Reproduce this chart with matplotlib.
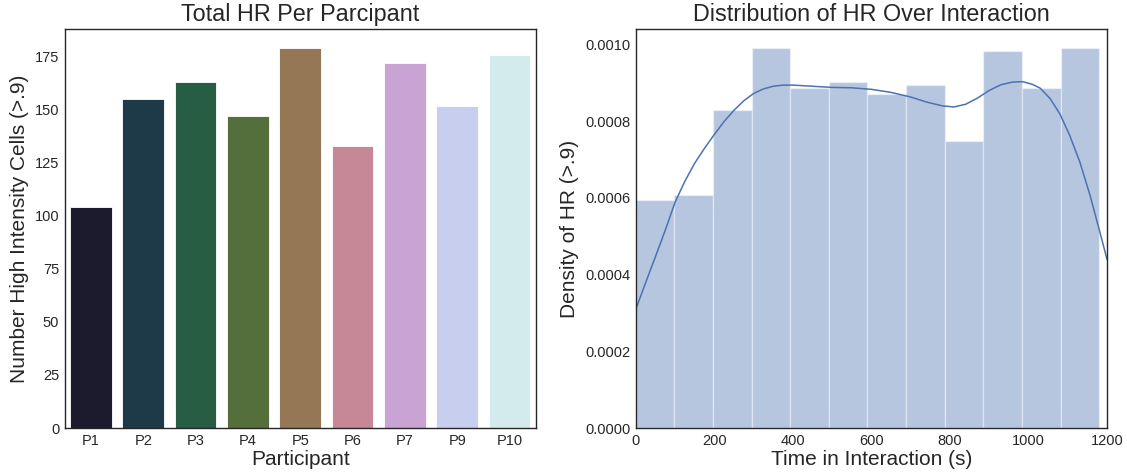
import matplotlib
matplotlib.use("Agg")
import matplotlib.pyplot as plt
import numpy as np

# participants (left panel)
participants = ["P1", "P2", "P3", "P4", "P5", "P6", "P7", "P9", "P10"]
hr_counts = [104, 155, 163, 147, 179, 133, 172, 152, 176]
bar_colors = ["#1c1a2d", "#1e3a48", "#265d43", "#546f3b", "#957756",
              "#c68896", "#c9a3d3", "#c8ceee", "#d4ebee"]

# histogram of HR over the interaction (right panel)
bin_edges = [0, 98.3, 196.7, 295, 393.3, 491.7, 590, 688.3, 786.7, 885, 983.3, 1081.7, 1180]
bin_density = [0.000594, 0.000608, 0.000829, 0.000990, 0.000886, 0.000902,
               0.000872, 0.000893, 0.000748, 0.000982, 0.000886, 0.000990]

# kde curve (density in units of 1e-4)
kde_x = [0, 25, 50, 75, 100, 125, 150, 175, 200, 225, 250, 275, 300, 325, 350,
         375, 400, 450, 500, 550, 600, 650, 700, 740, 780, 810, 840, 870, 900,
         930, 960, 985, 1010, 1030, 1055, 1080, 1105, 1131, 1157, 1182, 1200]
kde_y = [3.09, 3.78, 4.46, 5.15, 5.88, 6.43, 6.90, 7.29, 7.65, 7.99, 8.28, 8.53,
         8.72, 8.84, 8.91, 8.94, 8.94, 8.91, 8.88, 8.87, 8.83, 8.75, 8.63, 8.50,
         8.40, 8.37, 8.44, 8.60, 8.80, 8.95, 9.02, 9.03, 8.96, 8.86, 8.59, 8.19,
         7.63, 6.93, 6.06, 5.10, 4.40]

plt.rcParams["font.family"] = ["Liberation Sans", "DejaVu Sans"]
plt.rcParams["text.color"] = "#262626"
plt.rcParams["axes.labelcolor"] = "#262626"
plt.rcParams["xtick.color"] = "#262626"
plt.rcParams["ytick.color"] = "#262626"

fig = plt.figure(figsize=(11.27, 4.74), dpi=100)
ax1 = fig.add_axes([64.7 / 1127, 46 / 474, 471 / 1127, 398.7 / 474])
ax2 = fig.add_axes([635.7 / 1127, 46 / 474, 471.3 / 1127, 398.7 / 474])

# bar chart
ax1.bar(participants, hr_counts, width=0.8, color=bar_colors, edgecolor="white", linewidth=0.6)
ax1.set_xlim(-0.5, len(participants) - 0.5)
ax1.set_title("Total HR Per Parcipant", fontsize=16.8)
ax1.set_xlabel("Participant", fontsize=15, labelpad=2)
ax1.set_ylabel("Number High Intensity Cells (>.9)", fontsize=15)

# histogram + kde
centers = [(bin_edges[i] + bin_edges[i + 1]) / 2 for i in range(len(bin_density))]
ax2.hist(centers, bins=bin_edges, weights=bin_density, color="#4C72B0", alpha=0.4,
         edgecolor="white", linewidth=1)
ax2.plot(kde_x, np.array(kde_y) * 1e-4, color="#4C72B0", linewidth=1.1)
ax2.set_xlim(0, 1200)
ax2.set_title("Distribution of HR Over Interaction", fontsize=16.8)
ax2.set_xlabel("Time in Interaction (s)", fontsize=15, labelpad=2)
ax2.set_ylabel("Density of HR (>.9)", fontsize=15)
ax2.yaxis.set_major_formatter(matplotlib.ticker.FormatStrFormatter("%.4f"))

for ax in (ax1, ax2):
    ax.tick_params(length=0, labelsize=10.5, pad=4)
    for s in ax.spines.values():
        s.set_color("#262626")
        s.set_linewidth(1.0)

fig.savefig("out.png", dpi=100)
